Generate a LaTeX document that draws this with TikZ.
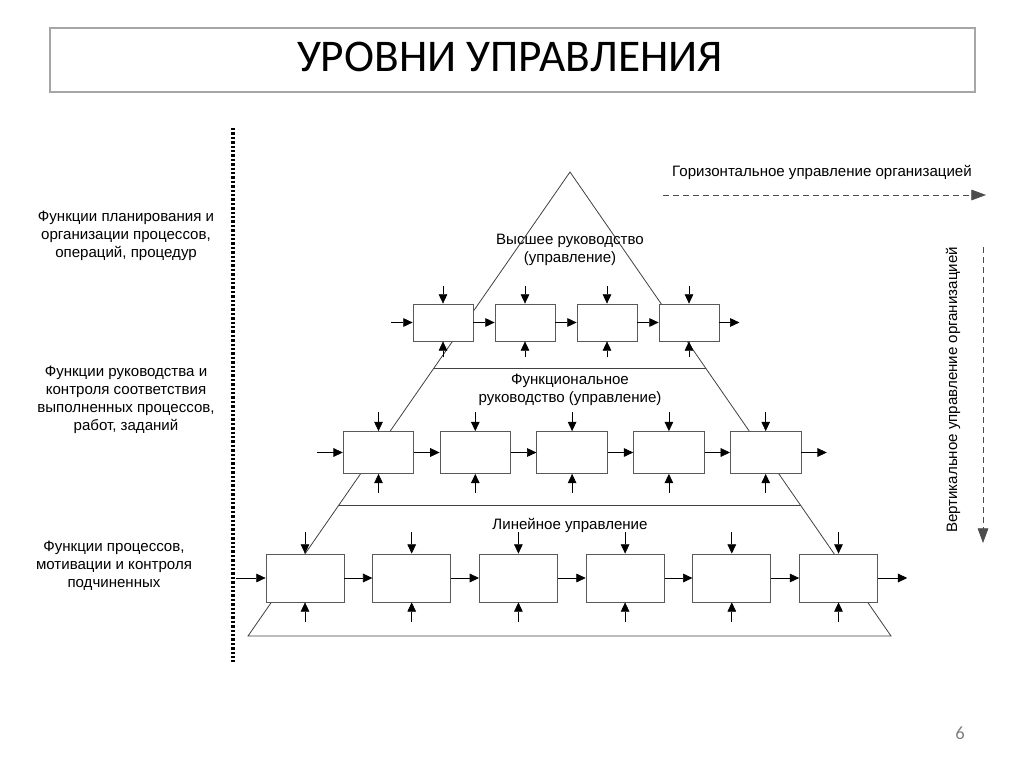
\documentclass[tikz,border=0pt]{standalone}
\usepackage{fontspec}
\setmainfont{Liberation Sans}
\newfontfamily\titlefont{Carlito}
\usetikzlibrary{arrows.meta}

\begin{document}
\begin{tikzpicture}[x=0.75pt,y=-0.75pt,font=\fontsize{11.3}{13.5}\selectfont,
  frame/.style={draw=black!35,line width=0.8pt},
  pyr/.style={draw=black!75,line width=0.6pt},
  blk/.style={draw=black!65,fill=white,line width=0.6pt,inner sep=0pt},
  arr/.style={-{Triangle[length=7pt,width=6.5pt]},line width=0.5pt},
  flow/.style={-{Triangle[length=11pt,width=8pt]},draw=black!70,line width=0.5pt,
    dash pattern=on 4.5pt off 3pt}]
\useasboundingbox (0,0) rectangle (1024,767);

% title
\draw[frame] (50,28) rectangle (975,92);
\node[font=\titlefont\fontsize{34}{38}\selectfont] (title) at (510,57) {УРОВНИ УПРАВЛЕНИЯ};

% pyramid
\coordinate (apex) at (570,172);
\coordinate (bl) at (248,636);
\coordinate (br) at (891,636);
\draw[pyr] (apex) -- (br) -- (bl) -- cycle;
\draw[pyr] (434,368) -- (706,368);
\draw[pyr] (339,505) -- (801,505);

% level 1
\foreach \i in {1,...,4}
  \node[blk,minimum width=45pt,minimum height=27.75pt] (a\i) at ({443+82*(\i-1)},322.5) {};
\foreach \i in {1,...,4} {
  \draw[arr] ([yshift=13pt]a\i.north) -- (a\i.north);
  \draw[arr] ([yshift=-12pt]a\i.south) -- (a\i.south);
}
\foreach \i/\j in {1/2,2/3,3/4}
  \draw[arr] (a\i.east) -- (a\j.west);
\draw[arr] ([xshift=-16pt]a1.west) -- (a1.west);
\draw[arr] (a4.east) -- ([xshift=15pt]a4.east);

% level 2
\foreach \i in {1,...,5}
  \node[blk,minimum width=53pt,minimum height=31.5pt] (b\i) at ({378.5+96.8*(\i-1)},452.5) {};
\foreach \i in {1,...,5} {
  \draw[arr] ([yshift=14pt]b\i.north) -- (b\i.north);
  \draw[arr] ([yshift=-14pt]b\i.south) -- (b\i.south);
}
\foreach \i/\j in {1/2,2/3,3/4,4/5}
  \draw[arr] (b\i.east) -- (b\j.west);
\draw[arr] ([xshift=-19pt]b1.west) -- (b1.west);
\draw[arr] (b5.east) -- ([xshift=19pt]b5.east);

% level 3
\foreach \i in {1,...,6}
  \node[blk,minimum width=58.5pt,minimum height=36pt] (c\i) at ({305+106.7*(\i-1)},578) {};
\foreach \i in {1,...,6} {
  \draw[arr] ([yshift=16pt]c\i.north) -- (c\i.north);
  \draw[arr] ([yshift=-15pt]c\i.south) -- (c\i.south);
}
\foreach \i/\j in {1/2,2/3,3/4,4/5,5/6}
  \draw[arr] (c\i.east) -- (c\j.west);
\draw[arr] ([xshift=-22pt]c1.west) -- (c1.west);
\draw[arr] (c6.east) -- ([xshift=22pt]c6.east);

% level labels
\node[align=center] (top) at (570,250) {Высшее руководство\\(управление)};
\node[align=center] (mid) at (570,390) {Функциональное\\руководство (управление)};
\node (low) at (570,525) {Линейное управление};

% left side
\draw[line width=3pt,dash pattern=on 1.8pt off 1.5pt] (233,128) -- (233,662);
\node[align=center] (f1) at (126,236) {Функции планирования и\\организации процессов,\\операций, процедур};
\node[align=center] (f2) at (126,400) {Функции руководства и\\контроля соответствия\\выполненных процессов,\\работ, заданий};
\node[align=center] (f3) at (114,566) {Функции процессов,\\мотивации и контроля\\подчиненных};

% right side
\node (hor) at (822,172) {Горизонтальное управление организацией};
\coordinate (h0) at (663,195);
\coordinate (h1) at (986,195);
\draw[flow] (h0) -- (h1);
\node[rotate=90] (ver) at (953,390) {Вертикальное управление организацией};
\coordinate (v0) at (983,247);
\coordinate (v1) at (983,543);
\draw[flow] (v0) -- (v1);

% page number
\node[font=\titlefont\fontsize{14}{16}\selectfont,text=black!50] (pg) at (960,733) {6};
\end{tikzpicture}
\end{document}
